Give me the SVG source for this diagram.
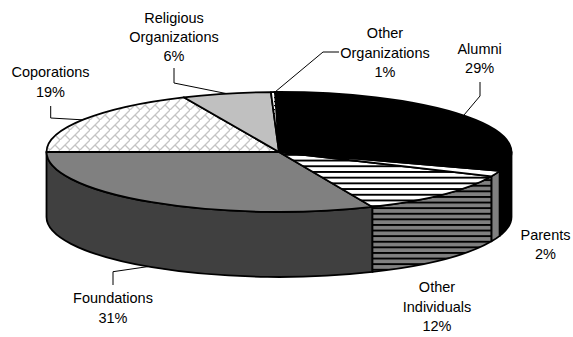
<svg xmlns="http://www.w3.org/2000/svg" width="573" height="337" viewBox="0 0 573 337">
<style>
.e{stroke:#000;stroke-width:1.8;stroke-linejoin:round}
.l{fill:none;stroke:#000;stroke-width:1}
text{font-family:"Liberation Sans",Arial,sans-serif;font-size:14.5px;fill:#000;text-anchor:middle}
</style>
<defs>
<pattern id="brick" width="10" height="10" patternUnits="userSpaceOnUse">
<rect width="10" height="10" fill="#fff"/>
<path d="M-1,11 L11,-1 M5,5 L10,10 M-5,5 L0,10" stroke="#c4c4c4" stroke-width="1.3" fill="none"/>
</pattern>
<pattern id="stripeW" width="10" height="5.7" patternUnits="userSpaceOnUse">
<rect width="10" height="5.7" fill="#fff"/>
<rect y="0" width="10" height="1.9" fill="#000"/>
</pattern>
<pattern id="stripeG" width="10" height="5.6" patternUnits="userSpaceOnUse">
<rect width="10" height="5.6" fill="#808080"/>
<rect y="0" width="10" height="1.9" fill="#000"/>
</pattern>
<pattern id="dots" width="3" height="4" patternUnits="userSpaceOnUse">
<rect width="3" height="4" fill="#fff"/>
<rect x="1" y="1" width="1" height="1.2" fill="#000"/>
</pattern>
</defs>

<g id="foundations">
<path class="e" fill="#404040" d="M372.45,206.94 A232.5,60 0 0 1 46.5,152 L46.5,217 A232.5,60 0 0 0 372.45,271.94 Z"/>
<path class="e" fill="#808080" d="M279,152 L372.45,206.94 A232.5,60 0 0 1 46.5,152 Z"/>
<text x="113" y="303.3">Foundations</text>
<text x="113" y="323.3">31%</text>
</g>
<g id="other-individuals">
<path class="e" fill="url(#stripeG)" d="M491.56,176.31 A232.5,60 0 0 1 372.45,206.94 L372.45,271.94 A232.5,60 0 0 0 491.56,241.31 Z"/>
<path class="e" fill="url(#stripeW)" d="M279,152 L491.56,176.31 A232.5,60 0 0 1 372.45,206.94 Z"/>
<text x="437" y="291.7">Other</text>
<text x="437" y="311.5">Individuals</text>
<text x="437" y="331.3">12%</text>
</g>
<g id="parents">
<path class="e" fill="#808080" d="M499.74,170.84 A232.5,60 0 0 1 491.56,176.31 L491.56,241.31 A232.5,60 0 0 0 499.74,235.84 Z"/>
<path class="e" fill="#fff" d="M279,152 L499.74,170.84 A232.5,60 0 0 1 491.56,176.31 Z"/>
<text x="545.5" y="239.5">Parents</text>
<text x="545.5" y="259.2">2%</text>
</g>
<g id="alumni">
<path class="e" fill="#000" d="M511.5,152 A232.5,60 0 0 1 499.74,170.84 L499.74,235.84 A232.5,60 0 0 0 511.5,217 Z"/>
<path class="e" fill="#000" d="M279,152 L274.94,92.01 A232.5,60 0 0 1 499.74,170.84 Z"/>
<text x="479.6" y="53.5">Alumni</text>
<text x="479.6" y="73.2">29%</text>
</g>
<g id="corporations">
<path class="e" fill="url(#brick)" d="M279,152 L46.5,152 A232.5,60 0 0 1 183.69,97.27 Z"/>
<text x="50.5" y="77.3">Coporations</text>
<text x="50.5" y="96.7">19%</text>
</g>
<g id="religious-organizations">
<path class="e" fill="#c0c0c0" d="M279,152 L183.69,97.27 A232.5,60 0 0 1 270.9,92.04 Z"/>
<text x="174" y="22.5">Religious</text>
<text x="174" y="41.6">Organizations</text>
<text x="174" y="60.7">6%</text>
</g>
<g id="other-organizations">
<path class="e" fill="url(#dots)" d="M279,152 L270.9,92.04 A232.5,60 0 0 1 274.94,92.01 Z"/>
<text x="385" y="38.3">Other</text>
<text x="385" y="57.6">Organizations</text>
<text x="385" y="76.8">1%</text>
</g>

<g id="connectors">
<path class="l" d="M480,82 V96 L464,115"/>
<path class="l" d="M339,52 H323 L275,92"/>
<path class="l" d="M174,68 V83 L226,93.5"/>
<path class="l" d="M50.7,106 V118 L82,119.8"/>
<path class="l" d="M113,285 V271.7 L148,266.6"/>
</g>
</svg>
